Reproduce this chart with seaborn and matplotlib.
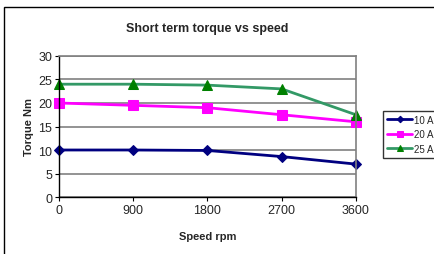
import numpy as np
import pandas as pd
import matplotlib
matplotlib.use('Agg')
import matplotlib.pyplot as plt
import seaborn as sns
from matplotlib.patches import Rectangle

speed = [0, 900, 1800, 2700, 3600]
torque_10a = [10, 10, 9.9, 8.6, 7.0]
torque_20a = [20, 19.5, 19, 17.5, 16]
torque_25a = [24, 24, 23.8, 23, 17.5]
series_names = ['10 A', '20 A', '25 A']

df = pd.DataFrame({
    'speed': speed * 3,
    'torque': torque_10a + torque_20a + torque_25a,
    'series': [n for n in series_names for _ in speed],
})

sns.set_style('white')
plt.rcParams['font.family'] = ['Liberation Sans', 'DejaVu Sans']

fig = plt.figure(figsize=(4.34, 2.55), dpi=100)
ax = fig.add_axes([0.136, 0.2235, 0.684, 0.553])

# outer chart border (runs off right and bottom edges)
fig.patches.append(Rectangle((4 / 434, -0.1), 1.2, 1 - 8 / 255 + 0.1,
                             transform=fig.transFigure, fill=False,
                             edgecolor='black', linewidth=1))

line_colors = {'10 A': '#000080', '20 A': '#ff00ff', '25 A': '#339966'}
marker_colors = {'10 A': '#000080', '20 A': '#ff00ff', '25 A': '#008000'}
markers = {'10 A': 'D', '20 A': 's', '25 A': '^'}
sizes = {'10 A': 5.5, '20 A': 7.5, '25 A': 7}

for name in series_names:
    sub = df[df.series == name]
    sns.lineplot(data=sub, x='speed', y='torque', ax=ax,
                 color=line_colors[name], linewidth=2, marker=markers[name],
                 markersize=sizes[name], markerfacecolor=marker_colors[name],
                 markeredgecolor=marker_colors[name], label=name, clip_on=False)

ax.set_xlim(0, 3600)
ax.set_ylim(0, 30)
ax.set_xticks(speed)
ax.set_yticks(range(0, 31, 5))
ax.tick_params(axis='both', labelsize=9, length=3, direction='out', pad=2,
               bottom=True, left=True, color='black')
ax.yaxis.grid(True, color='#808080', linewidth=1.2)
ax.set_axisbelow(True)

for side in ['top', 'right']:
    ax.spines[side].set_color('#808080')
    ax.spines[side].set_linewidth(1.2)
for side in ['left', 'bottom']:
    ax.spines[side].set_color('black')
    ax.spines[side].set_linewidth(1)

ax.set_title('Short term torque vs speed', fontsize=9, fontweight='bold', pad=18)
ax.set_xlabel('Speed rpm', fontsize=8, fontweight='bold', labelpad=11)
ax.set_ylabel('Torque Nm', fontsize=8, fontweight='bold', labelpad=3)

leg = ax.legend(loc='upper left', bbox_to_anchor=(383 / 434, 1 - 112 / 255),
                bbox_transform=fig.transFigure, fontsize=7, frameon=True,
                fancybox=False, borderaxespad=0, handlelength=2.6,
                handletextpad=0.2, labelspacing=0.45, borderpad=0.4,
                markerscale=0.6)
leg.get_frame().set_edgecolor('black')
leg.get_frame().set_linewidth(1)

fig.savefig('out.png', dpi=100)
